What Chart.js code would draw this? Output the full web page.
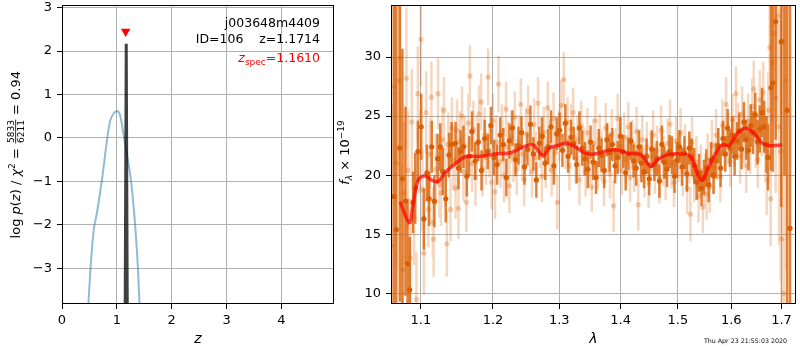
<!DOCTYPE html>
<html>
<head>
<meta charset="utf-8">
<script src="https://cdn.jsdelivr.net/npm/chart.js@4.4.1/dist/chart.umd.min.js"></script>
<style>
  body { margin: 0; background: #fff; }
  #wrap { position: relative; width: 800px; height: 350px; overflow: hidden; }
  canvas { position: absolute; top: 0; }
  #pz { left: 0; }
  #spec { left: 330px; }
</style>
</head>
<body>
<div id="wrap">
  <canvas id="pz" width="340" height="350"></canvas>
  <canvas id="spec" width="470" height="350"></canvas>
</div>
<script>
// ---- redshift probability panel ----
const objName = "j003648m4409";
const objId = 106;
const zBest = 1.1714;
const zSpec = 1.1610;
const zSpecMarkY = 2.45;

const zTicks = [0, 1, 2, 3, 4];
const logpTicks = [-3, -2, -1, 0, 1, 2, 3];

// photometric p(z): [z, log p]
const pzPhot = [
  [0.464, -4.2], [0.52, -3.0], [0.58, -2.1], [0.64, -1.7], [0.73, -0.95],
  [0.82, -0.05], [0.88, 0.40], [0.95, 0.58], [1.01, 0.62], [1.06, 0.52],
  [1.12, 0.10], [1.18, -0.35], [1.245, -0.85], [1.30, -1.5], [1.345, -2.2],
  [1.385, -3.0], [1.425, -4.2]
];
// grism fit p(z): [z, log p]
const pzGrism = [[1.150, -4.6], [1.1714, 2.17], [1.192, -4.6]];

// ---- spectrum panel ----
const waveTicks = [1.1, 1.2, 1.3, 1.4, 1.5, 1.6, 1.7];
const fluxTicks = [10, 15, 20, 25, 30];

// individual beams: [wavelength (um), flux, error]
const beamSpec = [
  [1.062,14.0,12],[1.065,27.5,10],[1.068,21.0,9],[1.071,28.0,8],[1.073,29.9,7],[1.076,12.0,9],
  [1.078,18.5,6],[1.081,28.2,6],[1.083,20.4,5],[1.086,13.0,5],[1.088,24.5,4.5],[1.091,16.4,4],
  [1.094,9.5,4],[1.096,26.9,4],[1.098,22.0,3.5],[1.100,31.5,4],[1.102,18.8,3.5],[1.104,13.4,3.5],
  [1.107,25.3,3.5],[1.110,17.1,3.2],[1.112,21.8,3],[1.114,26.6,3],[1.116,16.0,3],[1.117,14.6,3.2],
  [1.120,20.5,3],[1.123,26.9,3],[1.125,19.2,2.8],[1.127,18.5,2.8],[1.129,23.0,2.8],[1.131,25.5,2.8],
  [1.133,20.1,2.7],[1.135,14.2,2.8],[1.137,22.6,2.7],[1.140,17.1,2.7],[1.142,24.0,2.6],[1.144,21.3,2.6],
  [1.147,18.9,2.6],[1.149,23.8,2.6],[1.151,17.2,2.6],[1.153,22.9,2.5],[1.156,25.0,2.5],[1.158,20.3,2.5],
  [1.160,22.5,2.5],[1.162,17.7,2.5],[1.165,24.4,2.5],[1.167,28.4,2.6],[1.170,21.0,2.4],[1.172,23.9,2.4],
  [1.175,19.8,2.4],[1.177,22.7,2.4],[1.180,25.2,2.4],[1.183,26.2,2.4],[1.185,20.6,2.4],[1.188,23.4,2.3],
  [1.190,21.5,2.3],[1.193,28.3,2.4],[1.195,22.1,2.3],[1.198,19.4,2.3],[1.200,24.6,2.3],[1.203,18.6,2.3],
  [1.205,22.8,2.3],[1.208,27.7,2.4],[1.211,21.2,2.3],[1.213,23.7,2.3],[1.216,20.0,2.3],[1.219,25.6,2.3],
  [1.221,22.4,2.2],[1.224,19.1,2.3],[1.227,23.2,2.2],[1.230,21.6,2.2],[1.232,24.9,2.2],[1.235,20.5,2.2],
  [1.238,22.9,2.2],[1.241,26.0,2.2],[1.243,21.8,2.2],[1.246,19.6,2.2],[1.249,23.5,2.2],[1.252,25.4,2.2],
  [1.255,22.2,2.2],[1.258,20.3,2.2],[1.261,24.3,2.2],[1.264,21.5,2.2],[1.267,26.1,2.2],[1.270,22.8,2.2],
  [1.273,19.9,2.2],[1.276,23.6,2.2],[1.279,21.1,2.2],[1.282,25.7,2.2],[1.285,22.5,2.2],[1.288,20.4,2.2],
  [1.291,24.8,2.2],[1.294,21.9,2.2],[1.297,17.7,2.3],[1.300,23.4,2.2],[1.303,25.9,2.2],[1.307,28.1,2.3],
  [1.310,22.6,2.1],[1.313,24.5,2.1],[1.316,20.8,2.1],[1.319,23.9,2.1],[1.322,25.3,2.1],[1.326,21.4,2.1],
  [1.329,23.0,2.1],[1.332,19.6,2.1],[1.335,24.2,2.1],[1.339,22.0,2.1],[1.342,20.3,2.1],[1.345,23.6,2.1],
  [1.348,21.2,2.1],[1.352,19.0,2.1],[1.355,22.7,2.1],[1.358,24.6,2.1],[1.362,20.9,2.1],[1.365,23.1,2.1],
  [1.368,21.7,2.1],[1.372,19.5,2.1],[1.375,24.0,2.1],[1.379,22.3,2.1],[1.382,20.1,2.1],[1.385,23.5,2.1],
  [1.388,17.4,2.2],[1.392,21.9,2.1],[1.395,24.8,2.1],[1.399,22.5,2.1],[1.402,20.4,2.1],[1.406,23.2,2.1],
  [1.409,21.3,2.1],[1.413,24.1,2.1],[1.416,19.8,2.1],[1.420,22.6,2.1],[1.423,20.7,2.1],[1.427,23.7,2.1],
  [1.430,17.5,2.2],[1.434,21.8,2.1],[1.437,23.0,2.1],[1.441,20.2,2.1],[1.445,22.4,2.1],[1.448,19.3,2.1],
  [1.452,21.6,2.1],[1.456,23.4,2.1],[1.459,20.5,2.1],[1.463,22.1,2.1],[1.467,19.7,2.1],[1.470,23.8,2.1],
  [1.474,21.2,2.1],[1.478,20.0,2.1],[1.482,22.7,2.1],[1.486,24.3,2.1],[1.489,21.0,2.1],[1.493,19.4,2.1],
  [1.497,22.9,2.1],[1.501,21.5,2.1],[1.505,23.6,2.1],[1.509,20.3,2.1],[1.513,22.2,2.1],[1.517,18.9,2.2],
  [1.521,21.4,2.1],[1.523,16.7,2.3],[1.526,22.8,2.1],[1.530,19.8,2.1],[1.534,21.1,2.2],[1.538,18.2,2.2],
  [1.542,20.4,2.2],[1.546,17.3,2.2],[1.550,19.6,2.2],[1.553,18.4,2.2],[1.555,21.3,2.2],[1.559,19.0,2.2],
  [1.563,22.5,2.2],[1.567,20.7,2.2],[1.571,23.4,2.2],[1.575,21.8,2.2],[1.579,19.9,2.2],[1.583,24.2,2.2],
  [1.587,22.6,2.2],[1.590,26.0,2.3],[1.594,23.1,2.2],[1.598,21.2,2.2],[1.602,24.7,2.2],[1.606,22.9,2.2],
  [1.609,26.9,2.3],[1.613,23.8,2.3],[1.617,21.6,2.3],[1.621,25.2,2.3],[1.625,23.3,2.3],[1.629,20.8,2.3],
  [1.633,24.6,2.3],[1.637,22.4,2.3],[1.641,25.8,2.4],[1.644,27.3,2.4],[1.648,23.0,2.4],[1.652,21.3,2.4],
  [1.656,26.4,2.5],[1.660,24.1,2.5],[1.663,27.0,2.6],[1.667,22.5,2.7],[1.670,19.6,3.0],[1.673,25.5,3.2],
  [1.676,30.8,4],[1.678,18.0,4],[1.681,29.5,5],[1.685,32.0,7],[1.688,26.5,8],[1.692,33.5,9],
  [1.695,24.1,10],[1.698,22.0,11],[1.700,14.6,12],[1.703,31.3,14],[1.705,10.0,14],[1.708,28.0,16]
];

// combined spectrum: [wavelength (um), flux, error]
const combSpec = [
  [1.0646,18.2,25],[1.0677,15.4,22],[1.0723,22.3,13],[1.0757,19.7,11],[1.0797,17.8,8],[1.0823,12.5,5.5],
  [1.0853,10.3,4.5],[1.0896,17.7,2.6],[1.0925,18.9,3.0],[1.0960,22.0,2.6],[1.1004,24.1,2.8],[1.1040,16.3,2.6],
  [1.1080,20.2,2.4],[1.1110,18.0,2.3],[1.1145,22.4,2.2],[1.1180,17.8,2.2],[1.1224,21.4,2.1],[1.1260,22.4,2.0],
  [1.1295,20.3,2.0],[1.1335,18.0,2.0],[1.1380,21.7,1.9],[1.1415,22.6,1.9],[1.1470,22.7,1.8],[1.1510,20.6,1.8],
  [1.1540,22.0,1.8],[1.1580,22.4,1.8],[1.1627,19.9,1.7],[1.1660,21.6,1.7],[1.1700,23.7,1.7],[1.1745,21.2,1.6],
  [1.1790,22.8,1.6],[1.1835,20.4,1.7],[1.1880,23.1,1.6],[1.1925,22.0,1.5],[1.1970,24.2,1.6],[1.2015,21.5,1.5],
  [1.2060,20.9,1.7],[1.2105,23.4,1.5],[1.2150,22.6,1.4],[1.2195,19.8,1.6],[1.2240,22.9,1.5],[1.2285,24.0,1.5],
  [1.2330,21.3,1.4],[1.2375,22.5,1.6],[1.2420,23.6,1.4],[1.2465,20.7,1.5],[1.2510,22.2,1.4],[1.2555,24.3,1.6],
  [1.2600,21.8,1.4],[1.2645,19.6,1.5],[1.2690,22.7,1.4],[1.2735,23.3,1.6],[1.2780,21.0,1.4],[1.2825,22.4,1.5],
  [1.2870,24.1,1.4],[1.2915,20.8,1.6],[1.2960,23.5,1.4],[1.3005,23.8,1.5],[1.3050,22.1,1.4],[1.3095,24.4,1.6],
  [1.3140,21.6,1.4],[1.3185,23.2,1.5],[1.3230,22.7,1.4],[1.3275,20.9,1.6],[1.3320,24.0,1.4],[1.3365,22.3,1.5],
  [1.3410,21.4,1.4],[1.3455,20.5,1.6],[1.3500,22.8,1.4],[1.3545,21.1,1.5],[1.3590,19.8,1.4],[1.3635,22.3,1.6],
  [1.3680,21.7,1.4],[1.3725,20.4,1.5],[1.3770,23.0,1.4],[1.3815,21.9,1.6],[1.3860,22.6,1.4],[1.3905,20.8,1.5],
  [1.3950,21.5,1.4],[1.3995,23.3,1.6],[1.4040,22.0,1.4],[1.4085,20.2,1.5],[1.4130,21.8,1.4],[1.4175,22.9,1.6],
  [1.4220,21.2,1.4],[1.4265,20.6,1.5],[1.4310,22.4,1.4],[1.4355,21.0,1.6],[1.4400,20.3,1.4],[1.4445,21.6,1.5],
  [1.4490,19.7,1.4],[1.4535,22.2,1.6],[1.4580,20.9,1.4],[1.4625,21.4,1.5],[1.4670,19.5,1.4],[1.4715,22.6,1.6],
  [1.4760,21.1,1.4],[1.4805,20.5,1.5],[1.4850,22.0,1.4],[1.4895,21.7,1.6],[1.4940,19.9,1.4],[1.4985,21.3,1.5],
  [1.5030,22.4,1.4],[1.5075,20.7,1.6],[1.5120,21.9,1.4],[1.5165,20.1,1.5],[1.5210,22.3,1.4],[1.5255,21.5,1.6],
  [1.5300,20.8,1.5],[1.5345,19.4,1.5],[1.5390,20.2,1.6],[1.5435,18.9,1.5],[1.5480,19.8,1.5],[1.5525,20.6,1.6],
  [1.5570,19.2,1.5],[1.5615,21.3,1.5],[1.5660,20.0,1.6],[1.5705,21.2,1.5],[1.5750,22.5,1.5],[1.5795,20.6,1.6],
  [1.5840,23.1,1.5],[1.5885,21.8,1.5],[1.5930,24.0,1.6],[1.5975,22.3,1.6],[1.6020,23.4,1.6],[1.6065,21.6,1.6],
  [1.6110,22.9,1.6],[1.6155,23.7,1.6],[1.6200,22.2,1.7],[1.6245,24.5,1.7],[1.6290,23.0,1.7],[1.6335,22.1,1.7],
  [1.6380,24.2,1.8],[1.6425,23.6,1.8],[1.6470,25.1,1.9],[1.6515,22.8,1.9],[1.6560,23.9,2.0],[1.6605,25.3,2.1],
  [1.6650,24.1,2.2],[1.6695,22.6,2.4],[1.6725,21.5,2.8],[1.6785,27.4,7],[1.6820,27.8,7.5],[1.6880,33.0,10],
  [1.6995,31.3,14],[1.7060,36.0,16],[1.7115,25.5,20],[1.7175,15.5,25]
];

// best-fit template
const modelWave = [1.0727, 1.0847, 1.0899, 1.0965, 1.1053, 1.1140, 1.1229, 1.1340, 1.1475, 1.1610,
  1.1797, 1.2027, 1.2261, 1.2452, 1.2597, 1.2744, 1.2843, 1.2969, 1.3095, 1.3248, 1.3404, 1.3565,
  1.3780, 1.3947, 1.4115, 1.4343, 1.4516, 1.4632, 1.4810, 1.5051, 1.5233, 1.5356, 1.5449, 1.5543,
  1.5668, 1.5827, 1.5956, 1.6117, 1.6280, 1.6444, 1.6610, 1.6779, 1.7015];
const modelFlux = [17.76, 15.98, 17.6, 19.6, 19.94, 19.6, 19.46, 20.3, 21.0, 21.58,
  21.58, 21.8, 21.9, 22.4, 22.57, 21.64, 22.29, 22.5, 22.71, 22.42, 21.86, 21.8,
  22.08, 22.14, 21.86, 21.72, 20.73, 21.3, 21.72, 21.8, 21.58, 20.17, 19.54, 20.45,
  21.58, 22.57, 22.5, 23.56, 23.98, 23.56, 22.71, 22.5, 22.57];

const FAMILY = '"DejaVu Sans"';
Chart.defaults.font.family = FAMILY;
Chart.defaults.color = "#000";
const tickFont = { family: FAMILY, size: 13 };
const GRID = "#b0b0b0";
const ORANGE = "217,95,2";

const fontOf = (size, italic) => `${italic ? "italic " : ""}${size}px ${FAMILY}`;

// mixed-style text along one baseline; returns the width
function textRun(ctx, pieces, x, y, draw) {
  let w = 0;
  for (const p of pieces) {
    const size = p.size || 13;
    ctx.font = fontOf(size, p.italic);
    if (p.frac) {
      const fw = Math.max(...p.frac.map(t => ctx.measureText(t).width)) + 2;
      if (draw) {
        const axis = y - 4.3;
        ctx.textAlign = "center";
        ctx.fillText(p.frac[0], x + w + fw / 2, axis - 1.8);
        ctx.fillText(p.frac[1], x + w + fw / 2, axis + 8.4);
        ctx.fillRect(x + w + 0.5, axis - 0.4, fw - 1, 0.8);
        ctx.textAlign = "left";
      }
      w += fw;
      continue;
    }
    if (draw) ctx.fillText(p.text, x + w, y + (p.dy || 0));
    w += ctx.measureText(p.text).width;
  }
  return w;
}

function drawRotatedRun(ctx, pieces, x, yc) {
  ctx.save();
  ctx.translate(x, yc);
  ctx.rotate(-Math.PI / 2);
  ctx.textAlign = "left";
  ctx.textBaseline = "alphabetic";
  const w = textRun(ctx, pieces, 0, 0, false);
  textRun(ctx, pieces, -w / 2, 0, true);
  ctx.restore();
}

function errorSegments(rows) {
  const pts = [];
  for (const [w, f, e] of rows) {
    pts.push({ x: w, y: f - e }, { x: w, y: f + e }, { x: w, y: null });
  }
  return pts;
}

const fixTicks = list => s => { s.ticks = list.map(v => ({ value: v })); };
const minus = v => String(v).replace("-", "\u2212");

// black frame round the plot area
const frame = {
  id: "frame",
  afterDatasetsDraw(chart) {
    const { ctx, chartArea: a } = chart;
    ctx.save();
    ctx.strokeStyle = "#000";
    ctx.lineWidth = 1;
    ctx.strokeRect(Math.round(a.left) + 0.5, Math.round(a.top) + 0.5,
      Math.round(a.right - a.left) - 1, Math.round(a.bottom - a.top) - 1);
    ctx.restore();
  }
};

const pzLabels = {
  id: "pzLabels",
  afterDraw(chart) {
    const { ctx, chartArea: a } = chart;
    ctx.save();
    ctx.fillStyle = "#000";
    ctx.textBaseline = "alphabetic";
    ctx.textAlign = "right";
    ctx.font = fontOf(12.5);
    const xr = a.right - 14;
    ctx.fillText(objName, xr, 27);
    ctx.fillText(`ID=${objId}    z=${zBest.toFixed(4)}`, xr, 42.5);
    ctx.textAlign = "left";
    ctx.fillStyle = "#ff0000";
    const spec = [
      { text: "z", italic: true, size: 12.5 },
      { text: "spec", size: 9, dy: 3 },
      { text: "=" + zSpec.toFixed(4), size: 12.5 }
    ];
    const w = textRun(ctx, spec, 0, 0, false);
    textRun(ctx, spec, xr - w, 61.5, true);
    ctx.fillStyle = "#000";
    drawRotatedRun(ctx, [
      { text: "log " }, { text: "p", italic: true }, { text: "(" }, { text: "z", italic: true },
      { text: ") / " }, { text: "\u03c7", italic: true }, { text: "2", size: 9, dy: -5.5 },
      { text: " = " }, { frac: ["5833", "6211"], size: 9 }, { text: " = 0.94" }
    ], 20, (a.top + a.bottom) / 2);
    ctx.restore();
  }
};

const specLabels = {
  id: "specLabels",
  afterDraw(chart) {
    const { ctx, chartArea: a } = chart;
    ctx.save();
    ctx.fillStyle = "#000";
    drawRotatedRun(ctx, [
      { text: "f", italic: true }, { text: "\u03bb", italic: true, size: 9, dy: 3 },
      { text: " \u00d7 10" }, { text: "\u221219", size: 9, dy: -5.5 }
    ], 19, (a.top + a.bottom) / 2 - 2);
    ctx.font = fontOf(6.3);
    ctx.textAlign = "right";
    ctx.textBaseline = "alphabetic";
    ctx.fillText("Thu Apr 23 21:55:03 2020", 457, 342.5);
    ctx.restore();
  }
};

const xTitle = text => ({
  display: true, text, color: "#000",
  font: { family: FAMILY, size: 14, style: "italic" },
  padding: { top: 0, bottom: 2 }
});

new Chart(document.getElementById("pz"), {
  type: "scatter",
  data: {
    datasets: [
      {
        data: [{ x: zSpec, y: zSpecMarkY }],
        pointStyle: "triangle", rotation: 180, pointRadius: 5.4,
        pointBackgroundColor: "#ff0000", pointBorderWidth: 0, order: 0
      },
      {
        data: pzGrism.map(([x, y]) => ({ x, y })),
        showLine: true, borderColor: "rgba(0,0,0,0.75)", borderWidth: 3,
        pointRadius: 0, order: 1
      },
      {
        data: pzPhot.map(([x, y]) => ({ x, y })),
        showLine: true, borderColor: "rgba(31,119,180,0.5)", borderWidth: 2,
        pointRadius: 0, tension: 0.25, order: 2
      }
    ]
  },
  options: {
    responsive: false,
    animation: false,
    layout: { padding: { top: 5, right: 6, left: 0, bottom: 0 } },
    plugins: { legend: { display: false }, tooltip: { enabled: false } },
    scales: {
      x: {
        type: "linear", min: 0, max: 4.96,
        afterBuildTicks: fixTicks(zTicks),
        afterFit: s => { s.height = 46; s.paddingLeft = 0; s.paddingRight = 0; },
        grid: { color: GRID, tickColor: "#000", tickLength: 5, lineWidth: 1 },
        border: { display: false },
        ticks: { font: tickFont, color: "#000", padding: 4, maxRotation: 0, autoSkip: false },
        title: xTitle("z")
      },
      y: {
        type: "linear", min: -3.82, max: 3.05,
        afterBuildTicks: fixTicks(logpTicks),
        afterFit: s => { s.width = 62; s.paddingTop = 0; s.paddingBottom = 0; },
        grid: { color: GRID, tickColor: "#000", tickLength: 5, lineWidth: 1 },
        border: { display: false },
        ticks: { font: tickFont, color: "#000", padding: 5, autoSkip: false, callback: minus }
      }
    }
  },
  plugins: [frame, pzLabels]
});

new Chart(document.getElementById("spec"), {
  type: "scatter",
  data: {
    datasets: [
      {
        data: modelWave.map((x, i) => ({ x, y: modelFlux[i] })),
        showLine: true, borderColor: "rgba(255,0,0,0.7)", borderWidth: 3.5,
        pointRadius: 0, tension: 0.35, order: 0
      },
      {
        data: combSpec.map(([x, y]) => ({ x, y })),
        pointRadius: 2.6, pointBackgroundColor: `rgb(${ORANGE})`, pointBorderWidth: 0, order: 1
      },
      {
        data: errorSegments(combSpec),
        showLine: true, spanGaps: false, borderColor: `rgba(${ORANGE},0.78)`, borderWidth: 2.5,
        pointRadius: 0, order: 2
      },
      {
        data: beamSpec.map(([x, y]) => ({ x, y })),
        pointRadius: 2.6, pointBackgroundColor: `rgba(${ORANGE},0.3)`, pointBorderWidth: 0, order: 3
      },
      {
        data: errorSegments(beamSpec),
        showLine: true, spanGaps: false, borderColor: `rgba(${ORANGE},0.25)`, borderWidth: 2.5,
        pointRadius: 0, order: 4
      }
    ]
  },
  options: {
    responsive: false,
    animation: false,
    layout: { padding: { top: 5, right: 1, left: 0, bottom: 0 } },
    plugins: { legend: { display: false }, tooltip: { enabled: false } },
    scales: {
      x: {
        type: "logarithmic", min: 1.061, max: 1.730,
        afterBuildTicks: fixTicks(waveTicks),
        afterFit: s => { s.height = 46; s.paddingLeft = 0; s.paddingRight = 0; },
        grid: { color: GRID, tickColor: "#000", tickLength: 5, lineWidth: 1 },
        border: { display: false },
        ticks: { font: tickFont, color: "#000", padding: 4, maxRotation: 0, autoSkip: false,
          callback: v => Number(v).toFixed(1) },
        title: xTitle("\u03bb")
      },
      y: {
        type: "linear", min: 9.1, max: 34.4,
        afterBuildTicks: fixTicks(fluxTicks),
        afterFit: s => { s.width = 61; s.paddingTop = 0; s.paddingBottom = 0; },
        grid: { color: GRID, tickColor: "#000", tickLength: 5, lineWidth: 1 },
        border: { display: false },
        ticks: { font: tickFont, color: "#000", padding: 5, autoSkip: false }
      }
    }
  },
  plugins: [frame, specLabels]
});
</script>
</body>
</html>
